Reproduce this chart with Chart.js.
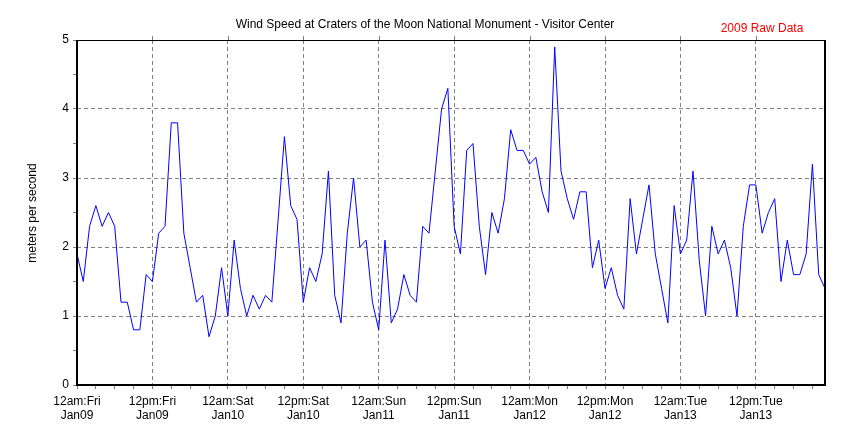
<!DOCTYPE html>
<html>
<head>
<meta charset="utf-8">
<script src="https://cdn.jsdelivr.net/npm/chart.js@4/dist/chart.umd.min.js"></script>
<style>
html,body{margin:0;padding:0;background:#fff;}
#wrap{width:850px;height:425px;}
</style>
</head>
<body>
<div id="wrap"><canvas id="c" width="850" height="425"></canvas></div>
<script>
// Hourly wind speed (m/s), starting 12am Fri Jan09
const windSpeed = [
  1.9,1.5,2.3,2.6,2.3,2.5,2.3,1.2,1.2,0.8,0.8,1.6,
  1.5,2.2,2.3,3.8,3.8,2.2,1.7,1.2,1.3,0.7,1.0,1.7,
  1.0,2.1,1.4,1.0,1.3,1.1,1.3,1.2,2.4,3.6,2.6,2.4,
  1.2,1.7,1.5,1.9,3.1,1.3,0.9,2.2,3.0,2.0,2.1,1.2,
  0.8,2.1,0.9,1.1,1.6,1.3,1.2,2.3,2.2,3.1,4.0,4.3,
  2.3,1.9,3.4,3.5,2.3,1.6,2.5,2.2,2.7,3.7,3.4,3.4,
  3.2,3.3,2.8,2.5,4.9,3.1,2.7,2.4,2.8,2.8,1.7,2.1,
  1.4,1.7,1.3,1.1,2.7,1.9,2.4,2.9,1.9,1.4,0.9,2.6,
  1.9,2.1,3.1,1.8,1.0,2.3,1.9,2.1,1.7,1.0,2.3,2.9,
  2.9,2.2,2.5,2.7,1.5,2.1,1.6,1.6,1.9,3.2,1.6,1.4
];
const tickTimes = ['12am:Fri','12pm:Fri','12am:Sat','12pm:Sat','12am:Sun','12pm:Sun','12am:Mon','12pm:Mon','12am:Tue','12pm:Tue'];
const tickDates = ['Jan09','Jan09','Jan10','Jan10','Jan11','Jan11','Jan12','Jan12','Jan13','Jan13'];
const yTickLabels = ['0','1','2','3','4','5'];
const chartTitle = 'Wind Speed at Craters of the Moon National Monument - Visitor Center';
const subTitle = '2009 Raw Data';
const yTitle = 'meters per second';

const FONT = '"Liberation Sans", Arial, Helvetica, sans-serif';
Chart.defaults.font.family = FONT;
Chart.defaults.font.size = 12;
Chart.defaults.color = '#000';

const decor = {
  id: 'decor',
  afterDatasetsDraw(chart) {
    const ctx = chart.ctx;
    const a = chart.chartArea;
    const xs = chart.scales.x;
    ctx.save();
    // frame
    ctx.strokeStyle = '#000';
    ctx.lineWidth = 1;
    ctx.beginPath();
    ctx.moveTo(a.left, Math.round(a.top) + 0.5);
    ctx.lineTo(a.right, Math.round(a.top) + 0.5);
    ctx.stroke();
    ctx.lineWidth = 2;
    ctx.beginPath();
    ctx.moveTo(Math.round(a.right), a.top);
    ctx.lineTo(Math.round(a.right), a.bottom + 1);
    ctx.stroke();
    ctx.beginPath();
    ctx.moveTo(Math.round(a.left), a.top);
    ctx.lineTo(Math.round(a.left), a.bottom + 1);
    ctx.stroke();
    ctx.beginPath();
    ctx.moveTo(a.left - 1, Math.round(a.bottom));
    ctx.lineTo(a.right + 1, Math.round(a.bottom));
    ctx.stroke();
    // small ticks above top border at major positions
    ctx.lineWidth = 1;
    ctx.strokeStyle = '#808080';
    for (let i = 1; i < tickTimes.length; i++) {
      const px = Math.round(xs.getPixelForValue(i * 12)) + 0.5;
      ctx.beginPath();
      ctx.moveTo(px, a.top - 4);
      ctx.lineTo(px, a.top);
      ctx.stroke();
    }
    // texts
    ctx.font = '12px ' + FONT;
    ctx.fillStyle = '#000';
    ctx.textAlign = 'center';
    ctx.textBaseline = 'middle';
    ctx.fillText(chartTitle, 425, 25);
    ctx.fillStyle = '#ff0000';
    ctx.fillText(subTitle, 762, 29);
    ctx.fillStyle = '#000';
    ctx.translate(33, 213);
    ctx.rotate(-Math.PI / 2);
    ctx.fillText(yTitle, 0, 0);
    ctx.restore();
  }
};

new Chart(document.getElementById('c'), {
  type: 'line',
  data: {
    datasets: [{
      data: windSpeed.map((v, i) => ({x: i, y: v})),
      borderColor: '#0000ff',
      borderWidth: 1,
      pointRadius: 0,
      tension: 0,
      fill: false
    }]
  },
  options: {
    responsive: false,
    animation: false,
    layout: {padding: {left: 0, top: 40, right: 25, bottom: 0}},
    plugins: {legend: {display: false}, title: {display: false}, tooltip: {enabled: false}},
    scales: {
      x: {
        type: 'linear',
        min: 0,
        max: 119,
        afterFit: s => { s.height = 40; },
        ticks: {
          stepSize: 3,
          includeBounds: false,
          autoSkip: false,
          maxRotation: 0,
          minRotation: 0,
          padding: 6,
          color: '#000',
          font: {size: 12, lineHeight: 1.15},
          callback: v => (v % 12 === 0 && v / 12 < tickTimes.length) ? [tickTimes[v / 12], tickDates[v / 12]] : ''
        },
        grid: {
          color: c => (c.tick && c.tick.value % 12 === 0 && c.tick.value > 0) ? '#808080' : 'rgba(0,0,0,0)',
          tickColor: '#808080',
          tickLength: 4,
          tickBorderDash: [],
          lineWidth: 1
        },
        border: {display: false, dash: [4, 3]}
      },
      y: {
        type: 'linear',
        min: 0,
        max: 5,
        afterFit: s => { s.width = 77; },
        ticks: {
          stepSize: 0.5,
          includeBounds: false,
          autoSkip: false,
          padding: 4,
          color: '#000',
          font: {size: 12},
          callback: v => Number.isInteger(v) ? yTickLabels[v] : ''
        },
        grid: {
          color: c => (c.tick && Number.isInteger(c.tick.value) && c.tick.value > 0 && c.tick.value < 5) ? '#808080' : 'rgba(0,0,0,0)',
          tickColor: '#808080',
          tickLength: 4,
          tickBorderDash: [],
          lineWidth: 1
        },
        border: {display: false, dash: [4, 3]}
      }
    }
  },
  plugins: [decor]
});
</script>
</body>
</html>
